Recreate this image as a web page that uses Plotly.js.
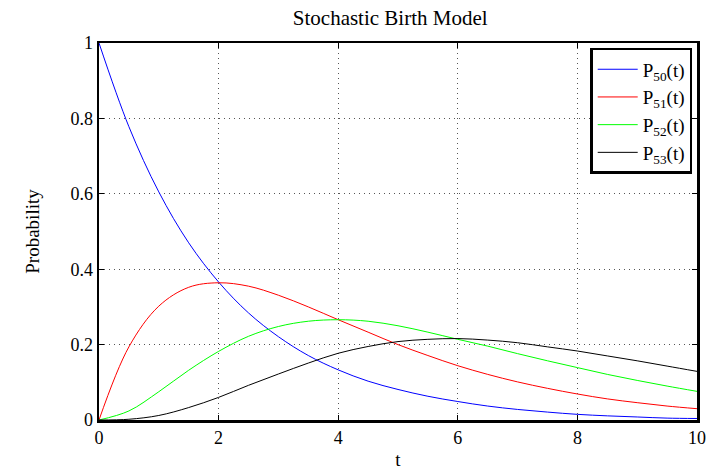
<!DOCTYPE html>
<html>
<head>
<meta charset="utf-8">
<script src="https://cdn.plot.ly/plotly-3.0.1.min.js"></script>
<style>html,body{margin:0;padding:0;background:#fff;}#chart{width:715px;height:470px;}</style>
</head>
<body>
<div id="chart"></div>
<script>
const t = [0,0.5,1,1.5,2,2.5,3,3.5,4,4.5,5,5.5,6,6.5,7,7.5,8,8.5,9,9.5,10];
const p50 = [1,0.778,0.605,0.470,0.366,0.284,0.221,0.171,0.133,0.103,0.081,0.063,0.049,0.037,0.028,0.021,0.015,0.011,0.008,0.005,0.004];
const p51 = [0,0.194,0.302,0.352,0.364,0.355,0.331,0.300,0.266,0.233,0.200,0.171,0.144,0.121,0.101,0.084,0.069,0.056,0.046,0.037,0.030];
const p52 = [0,0.024,0.075,0.132,0.182,0.222,0.248,0.262,0.266,0.262,0.250,0.233,0.214,0.196,0.176,0.157,0.139,0.121,0.105,0.090,0.076];
const p53 = [0,0.002,0.012,0.033,0.060,0.092,0.122,0.151,0.177,0.195,0.208,0.214,0.216,0.212,0.205,0.194,0.183,0.170,0.157,0.143,0.129];
const seriesNames = ['P<sub>50</sub>(t)','P<sub>51</sub>(t)','P<sub>52</sub>(t)','P<sub>53</sub>(t)'];
const seriesColors = ['#0000ff','#ff0000','#00ff00','#000000'];
const seriesData = [p50,p51,p52,p53];
const xTicks = [0,2,4,6,8,10];
const yTicks = [0,0.2,0.4,0.6,0.8,1];
const yTickText = ['0','0.2','0.4','0.6','0.8','1'];

const traces = seriesData.map((y,i)=>({
  x: t, y: y, type:'scatter', mode:'lines', name: seriesNames[i],
  line:{color: seriesColors[i], width:1, shape:'spline', smoothing:1}
}));

const axisCommon = {
  showline:true, linecolor:'#000', linewidth:2.5, mirror:'ticks',
  ticks:'inside', ticklen:5, tickwidth:1, tickcolor:'#000',
  showgrid:true, gridcolor:'#555', gridwidth:1, griddash:'1px,4px',
  zeroline:false, tickfont:{family:'Liberation Serif', size:18, color:'#000'}
};

const layout = {
  width:715, height:470,
  margin:{l:99, r:18, t:43, b:50},
  paper_bgcolor:'#fff', plot_bgcolor:'#fff',
  font:{family:'Liberation Serif', color:'#000'},
  title:{text:'Stochastic Birth Model', font:{family:'Liberation Serif', size:21, color:'#000'}, xref:'paper', x:0.487, xanchor:'center', y:0.962, yanchor:'middle'},
  xaxis: Object.assign({}, axisCommon, {range:[0,10], tickvals:xTicks, ticktext:xTicks.map(String),
    title:{text:'t', font:{family:'Liberation Serif', size:19, color:'#000'}, standoff:11}}),
  yaxis: Object.assign({}, axisCommon, {range:[0,1], tickvals:yTicks, ticktext:yTickText,
    title:{text:'Probability', font:{family:'Liberation Serif', size:19, color:'#000'}, standoff:26}}),
  showlegend:true,
  legend:{x:0.992, y:0.987, xanchor:'right', yanchor:'top', bgcolor:'#fff', bordercolor:'#000', borderwidth:2.5,
    font:{family:'Liberation Serif', size:19, color:'#000'}, itemwidth:40, tracegroupgap:0}
};

Plotly.newPlot('chart', traces, layout, {displayModeBar:false, staticPlot:true});
</script>
</body>
</html>
